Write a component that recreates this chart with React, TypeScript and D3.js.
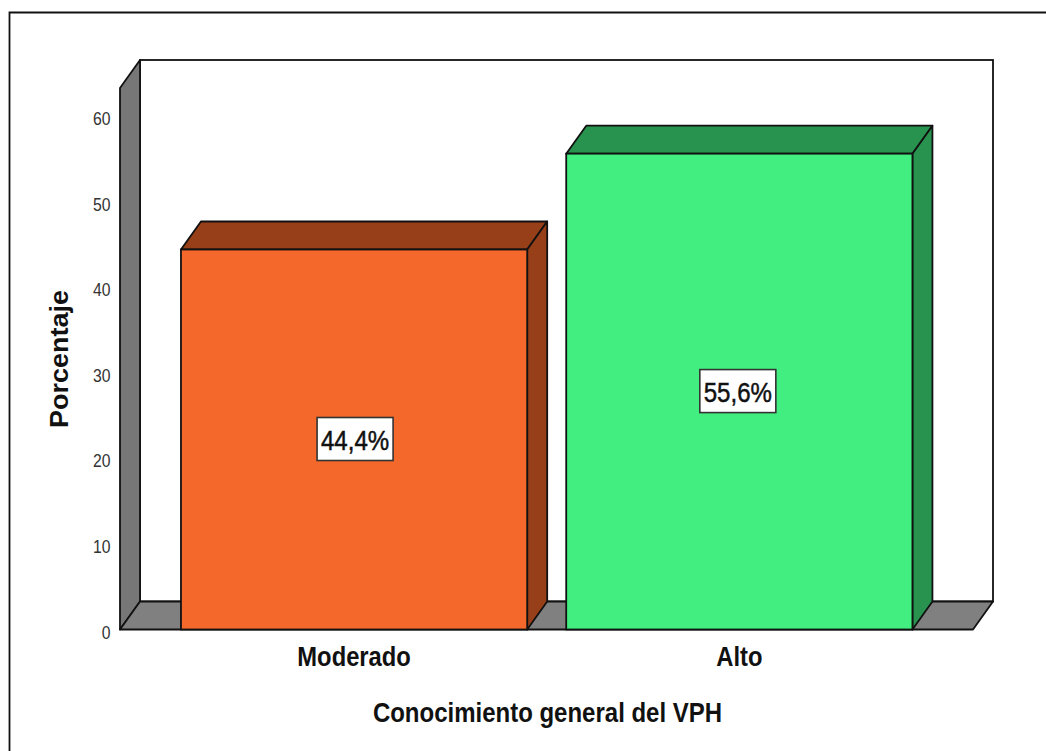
import React from "react";
import * as d3 from "d3";

const categories = ["Moderado", "Alto"];
const percentages = [44.4, 55.6];
const valueLabels = ["44,4%", "55,6%"];
const labelOffsets = [1, -1.5];
const frontColors = ["#f4682b", "#42ee80"];
const sideColors = ["#973f18", "#27934f"];
const yTicks = [0, 10, 20, 30, 40, 50, 60];

const W = 1046, H = 751;
const dx = 20, dy = 28;
const y = d3.scaleLinear().domain([0, 60]).range([629.5, 116]);
const x = d3.scaleBand().domain(categories).range([161.7, 931.7]).paddingInner(0.1013).paddingOuter(0.05);
const font = "'Liberation Sans', Arial, sans-serif";
const line = d3.line();
const poly = (p: [number, number][]) => line(p) + "Z";
const stroke = "#111";
const sw = 1.8;

function Squeezed({ x, y, sx, rotate = 0, children, ...rest }: any) {
  return (
    <text transform={`translate(${x},${y}) rotate(${rotate}) scale(${sx},1)`} fontFamily={font} {...rest}>
      {children}
    </text>
  );
}

export default function App() {
  const wallTop = 88;
  const left = 120, right = 973, base = y(0);
  return (
    <svg width={W} height={H} style={{ position: "absolute", left: 0, top: 0, background: "#fff" }}>
      <path d={`M9.5,${H + 5}V12.5H${W + 5}`} fill="none" stroke="#111" strokeWidth={sw} />
      <rect x={left + dx} y={wallTop - dy} width={right - left} height={base - wallTop} fill="#fff" stroke={stroke} strokeWidth={sw} />
      <path d={poly([[left, wallTop], [left + dx, wallTop - dy], [left + dx, base - dy], [left, base]])} fill="#777" stroke={stroke} strokeWidth={sw} strokeLinejoin="round" />
      <path d={poly([[left, base], [left + dx, base - dy], [right + dx, base - dy], [right, base]])} fill="#808080" stroke={stroke} strokeWidth={sw} strokeLinejoin="round" />
      {yTicks.map((t) => (
        <Squeezed key={t} x={110.5} y={y(t) + 9} sx={0.83} textAnchor="end" fontSize={19} fill="#333">{t}</Squeezed>
      ))}
      {categories.map((c, i) => {
        const x0 = x(c)!, x1 = x0 + x.bandwidth(), top = y(percentages[i]);
        const cx = (x0 + x1) / 2 + labelOffsets[i], cy = (top + base) / 2 - 0.5;
        return (
          <g key={c}>
            <path d={poly([[x0, top], [x0 + dx, top - dy], [x1 + dx, top - dy], [x1, top]])} fill={sideColors[i]} stroke={stroke} strokeWidth={sw} strokeLinejoin="round" />
            <path d={poly([[x1, top], [x1 + dx, top - dy], [x1 + dx, base - dy], [x1, base]])} fill={sideColors[i]} stroke={stroke} strokeWidth={sw} strokeLinejoin="round" />
            <rect x={x0} y={top} width={x1 - x0} height={base - top} fill={frontColors[i]} stroke={stroke} strokeWidth={sw} />
            <rect x={cx - 38} y={cy - 21.5} width={76} height={43} fill="#fff" stroke="#333" strokeWidth={1.6} />
            <Squeezed x={cx} y={cy + 11} sx={0.86} textAnchor="middle" fontSize={28} fill="#111" stroke="#111" strokeWidth={0.5}>{valueLabels[i]}</Squeezed>
            <Squeezed x={(x0 + x1) / 2} y={666} sx={0.88} textAnchor="middle" fontSize={27} fontWeight="bold" fill="#111">{c}</Squeezed>
          </g>
        );
      })}
      <Squeezed x={547.5} y={721.5} sx={0.889} textAnchor="middle" fontSize={27} fontWeight="bold" fill="#111">Conocimiento general del VPH</Squeezed>
      <Squeezed x={68} y={359} rotate={-90} sx={1.08} textAnchor="middle" fontSize={25} fontWeight="bold" fill="#111">Porcentaje</Squeezed>
    </svg>
  );
}
